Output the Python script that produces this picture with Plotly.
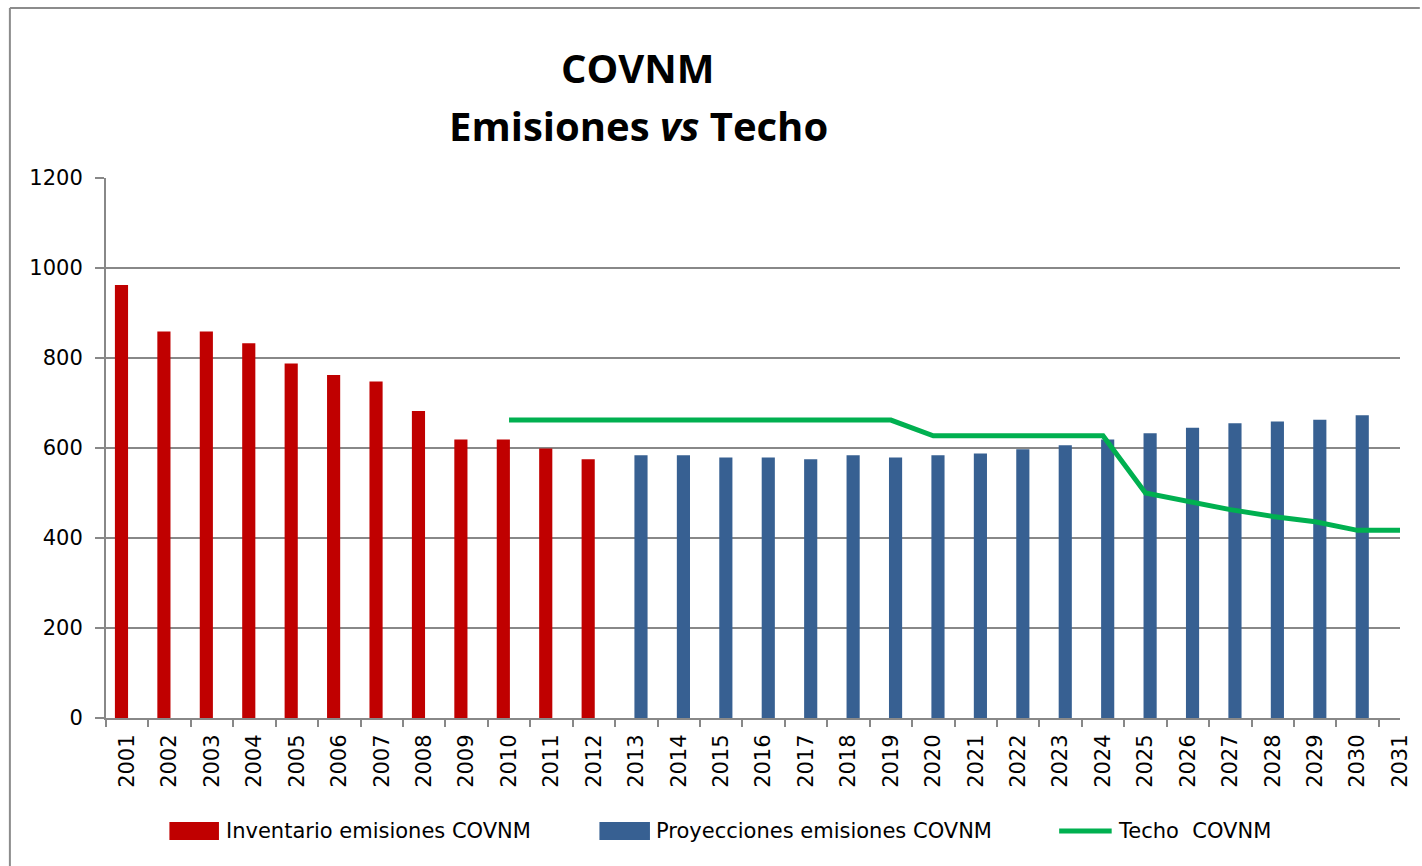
import plotly.graph_objects as go

# --- data -----------------------------------------------------------------
years = [str(y) for y in range(2001, 2032)]

inventario_years = [str(y) for y in range(2001, 2013)]
inventario = [962, 859, 859, 833, 788, 762, 748, 682, 619, 619, 599, 575]

proyeccion_years = [str(y) for y in range(2013, 2031)]
proyeccion = [584, 584, 579, 579, 575, 584, 579, 584, 588, 597,
              606, 619, 633, 645, 655, 659, 663, 673]

techo_years = [str(y) for y in range(2010, 2032)]
techo = [662, 662, 662, 662, 662, 662, 662, 662, 662, 662,
         627, 627, 627, 627, 627,
         500, 482, 463, 448, 436, 417, 417]

y_ticks = [0, 200, 400, 600, 800, 1000, 1200]

# --- layout geometry (pixels) -----------------------------------------------
W, H = 1422, 866
L, R, T, B = 106, 10, 178, 148
PW, PH = W - L - R, H - T - B
FONT = "DejaVu Sans"
GRID = "#888888"

# Excel draws the two bar series as a cluster: red in the left slot, blue in the right
BAR_W = 0.31
RED_OFFSET = -0.29
BLUE_OFFSET = -0.045


def px(x):
    return (x - L) / PW


def py(y):
    return (H - B - y) / PH


fig = go.Figure()

fig.add_trace(go.Bar(
    x=inventario_years, y=inventario,
    name="Inventario emisiones COVNM",
    width=BAR_W, offset=RED_OFFSET,
    marker=dict(color="#C00000", line=dict(width=0)),
))
fig.add_trace(go.Bar(
    x=proyeccion_years, y=proyeccion,
    name="Proyecciones emisiones COVNM",
    width=BAR_W, offset=BLUE_OFFSET,
    marker=dict(color="#376092", line=dict(width=0)),
))
fig.add_trace(go.Scatter(
    x=techo_years, y=techo,
    mode="lines", name="Techo  COVNM",
    line=dict(color="#00B050", width=5),
))

# custom legend, drawn like the Excel one
legend_items = [
    ("rect", "#C00000", 170, 220, "Inventario emisiones COVNM", 225),
    ("rect", "#376092", 604, 655, "Proyecciones emisiones COVNM", 659),
    ("line", "#00B050", 1068, 1121, "Techo  COVNM", 1125),
]
shapes = []
annotations = []
ly = 831
for kind, color, x0, x1, label, tx in legend_items:
    if kind == "rect":
        shapes.append(dict(type="rect", xref="paper", yref="paper",
                           x0=px(x0), x1=px(x1), y0=py(ly + 9), y1=py(ly - 9),
                           fillcolor=color, line=dict(width=0)))
    else:
        shapes.append(dict(type="line", xref="paper", yref="paper",
                           x0=px(x0), x1=px(x1), y0=py(ly), y1=py(ly),
                           line=dict(color=color, width=5)))
    annotations.append(dict(text=label, xref="paper", yref="paper",
                            x=px(tx), y=py(ly), xanchor="left", yanchor="middle",
                            showarrow=False, font=dict(family=FONT, size=21, color="#000000")))

# two-line title
for text, cy in [("<b>COVNM</b>", 68), ("<b>Emisiones <i>vs</i> Techo</b>", 125)]:
    annotations.append(dict(text=text, xref="paper", yref="paper",
                            x=px(643), y=py(cy), xanchor="center", yanchor="middle",
                            showarrow=False,
                            font=dict(family="Open Sans", size=40, color="#000000")))

# chart frame (left and top edges visible)
shapes.append(dict(type="line", xref="paper", yref="paper",
                   x0=px(9), x1=px(9), y0=py(8), y1=py(H + 10),
                   line=dict(color="#8c8c8c", width=2)))
shapes.append(dict(type="line", xref="paper", yref="paper",
                   x0=px(9), x1=px(W + 10), y0=py(8), y1=py(8),
                   line=dict(color="#8c8c8c", width=2)))

fig.update_layout(
    width=W, height=H,
    margin=dict(l=L, r=R, t=T, b=B),
    paper_bgcolor="white", plot_bgcolor="white",
    barmode="overlay",
    showlegend=False,
    font=dict(family=FONT, size=21, color="#000000"),
    xaxis=dict(
        type="category", categoryorder="array", categoryarray=years,
        tickvals=years, tickangle=-90, tickson="boundaries",
        ticks="outside", ticklen=7, tickcolor=GRID, tickwidth=1.5,
        showline=True, linecolor=GRID, linewidth=2,
        showgrid=False, ticklabelstandoff=6,
        tickfont=dict(family=FONT, size=21, color="#000000"),
    ),
    yaxis=dict(
        range=[0, 1200], tickvals=y_ticks,
        ticks="outside", ticklen=9, tickcolor=GRID, tickwidth=1.5,
        showline=True, linecolor=GRID, linewidth=2,
        showgrid=True, gridcolor=GRID, gridwidth=1.5,
        zeroline=False, ticklabelstandoff=8,
        tickfont=dict(family=FONT, size=21, color="#000000"),
    ),
    shapes=shapes,
    annotations=annotations,
)

fig.write_html("out.html", config={"displayModeBar": False},
               post_script="document.body.style.margin='0';")
